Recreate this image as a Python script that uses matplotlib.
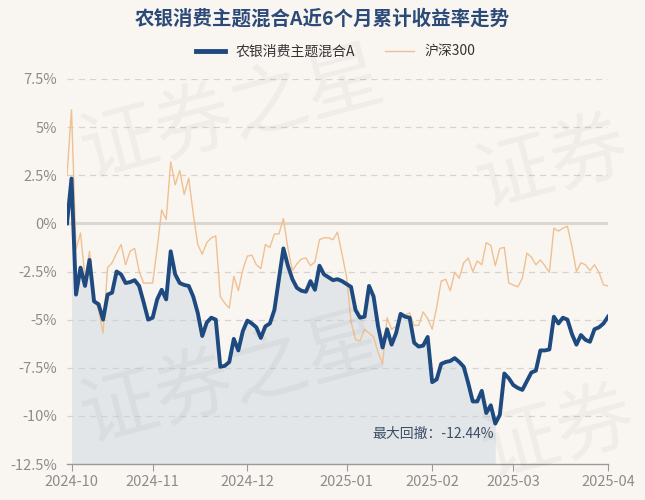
import numpy as np
import matplotlib
matplotlib.use("Agg")
import matplotlib.pyplot as plt
from matplotlib.lines import Line2D
from matplotlib.ticker import FixedLocator, FixedFormatter

plt.rcParams['font.family'] = ['Noto Sans CJK SC', 'DejaVu Sans']

title = "农银消费主题混合A近6个月累计收益率走势"
fund_name = "农银消费主题混合A"
index_name = "沪深300"

# cumulative return (%) per trading day, 2024-09-30 .. 2025-04-01
fund = [
    0.0, 2.33, -3.7, -2.3, -3.25, -1.9, -4.05, -4.2, -5.0, -3.7,
    -3.6, -2.5, -2.65, -3.1, -3.05, -2.95, -3.25, -4.1, -5.0, -4.9,
    -3.95, -3.45, -3.95, -1.45, -2.65, -3.1, -3.2, -3.25, -3.8, -4.65,
    -5.85, -5.15, -4.9, -5.0, -7.45, -7.4, -7.2, -6.0, -6.6, -5.6,
    -5.05, -5.2, -5.4, -5.95, -5.35, -5.2, -4.5, -2.9, -1.3, -2.2,
    -2.9, -3.35, -3.5, -3.55, -3.0, -3.45, -2.2, -2.65, -2.8, -2.95,
    -2.9, -3.0, -3.15, -3.3, -4.5, -4.9, -4.85, -3.25, -3.8, -5.35,
    -6.45, -5.5, -6.3, -5.7, -4.7, -4.85, -4.9, -6.2, -6.4, -6.35,
    -5.9, -8.25, -8.1, -7.3, -7.2, -7.15, -7.0, -7.2, -7.45, -8.3,
    -9.25, -9.25, -8.7, -9.85, -9.45, -10.4, -9.95, -7.8, -8.05, -8.4,
    -8.55, -8.65, -8.2, -7.75, -7.65, -6.6, -6.6, -6.55, -4.85, -5.2,
    -4.9, -5.0, -5.75, -6.3, -5.8, -6.05, -6.15, -5.5, -5.4, -5.2,
    -4.85,
]
hs300 = [
    2.5, 5.9, -1.35, -0.5, -2.85, -1.45, -3.85, -4.5, -5.7, -2.3,
    -2.05, -1.55, -1.1, -2.15, -1.45, -1.3, -2.5, -3.1, -3.1, -3.1,
    -1.3, 0.7, 0.2, 3.2, 2.0, 2.75, 1.5, 2.35, 0.5, -1.1,
    -1.6, -1.0, -0.75, -0.65, -3.8, -4.15, -4.4, -2.75, -3.5, -2.4,
    -1.7, -1.65, -2.15, -2.35, -1.1, -1.25, -0.55, -0.55, 0.25, -1.3,
    -2.45, -2.1, -1.85, -1.8, -2.2, -2.0, -0.85, -0.75, -0.75, -0.85,
    -0.45, -1.6, -2.75, -5.1, -6.05, -6.1, -5.5, -5.7, -5.9, -6.7,
    -7.3, -4.9, -5.5, -5.35, -4.9, -4.75, -4.65, -5.3, -5.3, -4.6,
    -4.95, -5.5, -4.35, -3.0, -2.9, -3.5, -2.55, -2.85, -2.05, -1.8,
    -2.5, -1.95, -2.15, -1.0, -1.15, -2.2, -1.3, -1.25, -3.1, -3.2,
    -3.3, -2.85, -1.55, -1.75, -2.15, -1.9, -2.2, -2.55, -0.25, -0.4,
    -0.25, -0.15, -1.2, -2.5, -2.05, -2.15, -2.45, -2.15, -2.55, -3.2,
    -3.25,
]
# trading-day index of the first trading day of each month
month_idx = [1, 19, 40, 62, 81, 99, 120]
month_labels = ["2024-10", "2024-11", "2024-12", "2025-01", "2025-02", "2025-03", "2025-04"]
y_ticks = [7.5, 5, 2.5, 0, -2.5, -5, -7.5, -10, -12.5]
y_labels = ["7.5%", "5%", "2.5%", "0%", "-2.5%", "-5%", "-7.5%", "-10%", "-12.5%"]
max_dd_text = "最大回撤：-12.44%"

BG = "#f9f6f2"
BLUE = "#1e4a80"
ORANGE = "#f0c090"

fund = np.array(fund)
hs300 = np.array(hs300)
x = np.arange(len(fund))

fig = plt.figure(figsize=(6.45, 5.0), dpi=100, facecolor=BG)

# watermarks
wm_kw = dict(fontsize=56, color="#000000", alpha=0.04, rotation=15,
             ha="center", va="center", zorder=0)
fig.text(0.36, 0.77, "证券之星", **wm_kw)
fig.text(0.36, 0.24, "证券之星", **wm_kw)
fig.text(0.855, 0.67, "证券", **wm_kw)
fig.text(0.865, 0.13, "证券", **wm_kw)

ax = fig.add_axes([67 / 645, 36 / 500, 541 / 645, 385 / 500])
ax.set_facecolor("none")
ax.set_xlim(0, len(fund) - 1)
ax.set_ylim(-12.5, 7.5)

# grid
for v in y_ticks:
    if v == 0:
        ax.axhline(v, color="#dcd6d0", lw=2.2, zorder=1)
    elif v != -12.5:
        ax.axhline(v, color="#d6d3cf", lw=0.9, ls=(0, (5, 4)), zorder=1)

# max drawdown region
wealth = 1 + fund / 100
dd = wealth / np.maximum.accumulate(wealth) - 1
trough = int(np.argmin(dd))
peak = int(np.argmax(wealth[:trough + 1]))
ax.fill_between(x[peak:trough + 1], fund[peak:trough + 1], -12.5,
                color="#c9d3dd", alpha=0.45, lw=0, zorder=1.5)
ax.text(x[trough] - 0.3, fund[trough] - 0.55, max_dd_text, ha="right", va="center",
        fontsize=10, color="#3d4f66", zorder=5)

ax.plot(x, hs300, color=ORANGE, lw=1.0, zorder=3)
ax.plot(x, fund, color=BLUE, lw=2.8, zorder=4, solid_joinstyle="round")

for s in ["left", "right", "top"]:
    ax.spines[s].set_visible(False)
ax.spines["bottom"].set_color("#9a9a9a")
ax.spines["bottom"].set_linewidth(1.0)

ax.xaxis.set_major_locator(FixedLocator(month_idx))
ax.xaxis.set_major_formatter(FixedFormatter(month_labels))
ax.yaxis.set_major_locator(FixedLocator(y_ticks))
ax.yaxis.set_major_formatter(FixedFormatter(y_labels))
ax.tick_params(axis="x", length=5, color="#9a9a9a", labelsize=10.5, labelcolor="#8c8c8c", pad=3)
ax.tick_params(axis="y", length=0, labelsize=10.5, labelcolor="#8c8c8c", pad=7)

fig.text(0.5, 1 - 19 / 500, title, ha="center", va="center", fontsize=14,
         fontweight="bold", color="#2c4a78")

handles = [Line2D([], [], color=BLUE, lw=3.5), Line2D([], [], color=ORANGE, lw=1.0)]
fig.legend(handles, [fund_name, index_name], loc="center",
           bbox_to_anchor=(0.5 + 13 / 645, 1 - 52 / 500),
           ncol=2, frameon=False, fontsize=10, handlelength=2.1, columnspacing=2.2,
           handletextpad=0.7, labelcolor="#333333")

fig.savefig("out.png", dpi=100, facecolor=BG)
